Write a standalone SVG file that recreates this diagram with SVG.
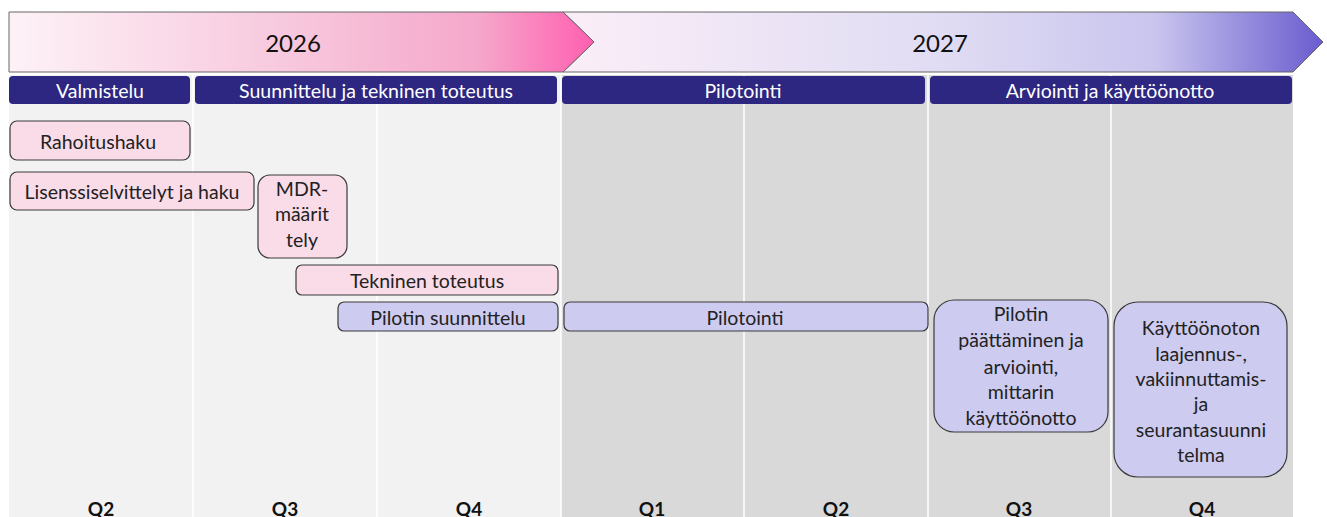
<svg xmlns="http://www.w3.org/2000/svg" width="1327" height="517" viewBox="0 0 1327 517">
<defs>
<linearGradient id="g26" x1="0" y1="0" x2="1" y2="0">
<stop offset="0" stop-color="#fdf2f7"/>
<stop offset="0.5" stop-color="#f7c6dc"/>
<stop offset="0.8" stop-color="#f5a8cb"/>
<stop offset="1" stop-color="#ff5fb0"/>
</linearGradient>
<linearGradient id="g27" x1="0" y1="0" x2="1" y2="0">
<stop offset="0" stop-color="#fbeef8"/>
<stop offset="0.5" stop-color="#e0dcf3"/>
<stop offset="0.78" stop-color="#c9c5ee"/>
<stop offset="1" stop-color="#6a5ccf"/>
</linearGradient>
<style>
.t{font-family:Lato,"Liberation Sans",sans-serif;font-size:19.5px;fill:#222;text-anchor:middle;dominant-baseline:central}
.ph{font-family:Lato,"Liberation Sans",sans-serif;font-size:19.5px;fill:#fff;text-anchor:middle;dominant-baseline:central}
.yr{font-family:Lato,"Liberation Sans",sans-serif;font-size:24px;fill:#111;text-anchor:middle;dominant-baseline:central}
.q{font-family:Lato,"Liberation Sans",sans-serif;font-size:19px;font-weight:bold;fill:#111;text-anchor:middle;dominant-baseline:central}
.bar{fill:#2d2781}
.pk{fill:#fadbe8;stroke:#3a3a3a;stroke-width:1.2}
.lv{fill:#cecbf0;stroke:#3a3a3a;stroke-width:1.2}
.sep{stroke:#ffffff;stroke-width:1.5}
</style>
</defs>
<g id="background">
<rect x="9" y="75" width="552" height="442" fill="#f2f2f2"/>
<rect x="561" y="75" width="732" height="442" fill="#d9d9d9"/>
<line class="sep" x1="193" y1="75" x2="193" y2="517"/>
<line class="sep" x1="377" y1="75" x2="377" y2="517"/>
<line class="sep" x1="561" y1="75" x2="561" y2="517"/>
<line class="sep" x1="744" y1="75" x2="744" y2="517"/>
<line class="sep" x1="928" y1="75" x2="928" y2="517"/>
<line class="sep" x1="1111" y1="75" x2="1111" y2="517"/>
</g>
<g id="year2027">
<polygon points="563,12 1293,12 1323,42 1293,72 563,72 594,42" fill="url(#g27)" stroke="#666" stroke-width="1"/>
<text class="yr" x="940" y="42">2027</text>
</g>
<g id="year2026">
<polygon points="9,12 563,12 594,42 563,72 9,72" fill="url(#g26)" stroke="#666" stroke-width="1"/>
<text class="yr" x="293" y="42">2026</text>
</g>
<g id="phase-valmistelu"><rect class="bar" x="9" y="76" width="181" height="28" rx="4"/><text class="ph" x="100" y="90">Valmistelu</text></g>
<g id="phase-suunnittelu"><rect class="bar" x="195" y="76" width="362" height="28" rx="4"/><text class="ph" x="376" y="90">Suunnittelu ja tekninen toteutus</text></g>
<g id="phase-pilotointi"><rect class="bar" x="562" y="76" width="363" height="28" rx="4"/><text class="ph" x="743" y="90">Pilotointi</text></g>
<g id="phase-arviointi"><rect class="bar" x="930" y="76" width="362" height="28" rx="4"/><text class="ph" x="1110" y="90">Arviointi ja käyttöönotto</text></g>
<g id="rahoitushaku"><rect class="pk" x="10" y="121" width="180" height="39" rx="7"/><text class="t" x="98" y="141">Rahoitushaku</text></g>
<g id="lisenssi"><rect class="pk" x="10" y="172" width="244" height="38" rx="7"/><text class="t" x="132" y="191">Lisenssiselvittelyt ja haku</text></g>
<g id="mdr"><rect class="pk" x="258" y="175" width="89" height="83" rx="12"/><text class="t" x="302" y="188">MDR-</text><text class="t" x="302" y="213">määrit</text><text class="t" x="302" y="239">tely</text></g>
<g id="tekninen"><rect class="pk" x="296" y="265" width="262" height="30" rx="6"/><text class="t" x="427" y="280">Tekninen toteutus</text></g>
<g id="pilotin-suunnittelu"><rect class="lv" x="338" y="302" width="220" height="29" rx="6"/><text class="t" x="448" y="317">Pilotin suunnittelu</text></g>
<g id="pilotointi"><rect class="lv" x="564" y="302" width="364" height="29" rx="6"/><text class="t" x="745" y="317">Pilotointi</text></g>
<g id="pilotin-paattaminen"><rect class="lv" x="934" y="300" width="174" height="132" rx="20"/>
<text class="t" x="1021" y="313">Pilotin</text><text class="t" x="1021" y="339">päättäminen ja</text><text class="t" x="1021" y="366">arviointi,</text><text class="t" x="1021" y="391">mittarin</text><text class="t" x="1021" y="417">käyttöönotto</text></g>
<g id="kayttoonotto"><rect class="lv" x="1114" y="302" width="173" height="175" rx="24"/>
<text class="t" x="1201" y="327">Käyttöönoton</text><text class="t" x="1201" y="353">laajennus-,</text><text class="t" x="1201" y="378">vakiinnuttamis-</text><text class="t" x="1201" y="403">ja</text><text class="t" x="1201" y="429">seurantasuunni</text><text class="t" x="1201" y="454">telma</text></g>
<g id="quarters">
<text class="q" x="101" y="508">Q2</text><text class="q" x="285" y="508">Q3</text><text class="q" x="469" y="508">Q4</text>
<text class="q" x="652" y="508">Q1</text><text class="q" x="836" y="508">Q2</text><text class="q" x="1019" y="508">Q3</text><text class="q" x="1202" y="508">Q4</text>
</g>
<g id="connectors"/>
</svg>
